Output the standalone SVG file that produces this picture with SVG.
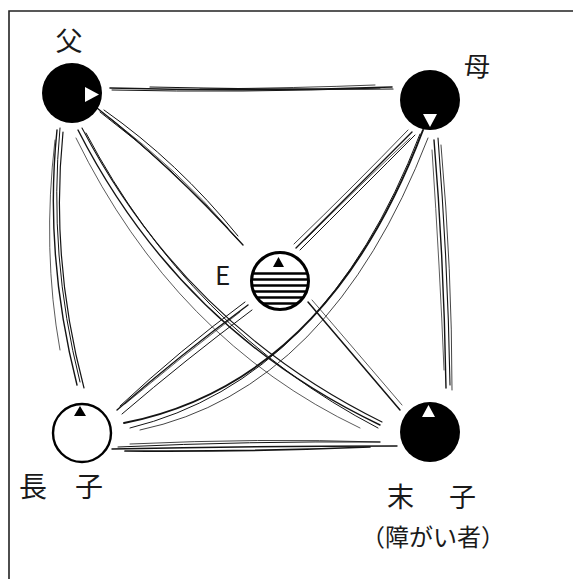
<svg xmlns="http://www.w3.org/2000/svg" width="573" height="579" viewBox="0 0 573 579">
<style>
.lbl{font-family:"Noto Sans CJK JP","Noto Sans",sans-serif;fill:#1a1a1a}
.s{fill:none;stroke:#141414;stroke-linecap:round}
.dark{fill:#000}
.tw{fill:#fff}
.tb{fill:#000}
</style>
<defs>
<clipPath id="eclip"><circle cx="280" cy="281" r="28"/></clipPath>
</defs>
<rect width="573" height="579" fill="#fff"/>
<path d="M9,579 V11 H573" fill="none" stroke="#222" stroke-width="1.6"/>

<g id="connectors">
<g id="fa-mo">
<path class="s" d="M110,88 Q250,92 392,87" stroke-width="1.6"/>
<path class="s" d="M112,90 Q240,93 380,88" stroke-width="1"/>
<path class="s" d="M150,87 Q280,90 393,89" stroke-width="1.2"/>
<path class="s" d="M200,89 Q300,88 375,85" stroke-width="0.8"/>
</g>
<g id="fa-el">
<path class="s" d="M57,130 Q44,255 77,385" stroke-width="1.4"/>
<path class="s" d="M60,128 Q48,255 80,382" stroke-width="1"/>
<path class="s" d="M63,132 Q50,260 84,388" stroke-width="1.2"/>
<path class="s" d="M55,140 Q42,250 60,350" stroke-width="0.7"/>
</g>
<g id="fa-e">
<path class="s" d="M97,108 Q170,165 243,245" stroke-width="1.4"/>
<path class="s" d="M100,112 Q175,168 240,242" stroke-width="1"/>
<path class="s" d="M104,110 Q178,162 238,236" stroke-width="1"/>
<path class="s" d="M110,118 Q180,172 228,228" stroke-width="0.7"/>
</g>
<g id="fa-yo">
<path class="s" d="M78,130 Q180,330 380,425" stroke-width="1.4"/>
<path class="s" d="M82,128 Q185,325 382,422" stroke-width="1.1"/>
<path class="s" d="M86,133 Q190,330 378,428" stroke-width="1"/>
<path class="s" d="M76,138 Q175,340 360,428" stroke-width="0.7"/>
</g>
<g id="mo-e">
<path class="s" d="M412,132 L296,248" stroke-width="1.4"/>
<path class="s" d="M415,135 Q360,190 300,250" stroke-width="1"/>
<path class="s" d="M408,130 Q355,185 294,244" stroke-width="0.8"/>
<path class="s" d="M410,138 Q360,185 305,240" stroke-width="0.7"/>
</g>
<g id="mo-el">
<path class="s" d="M423,130 Q327,383 124,423" stroke-width="1.9"/>
<path class="s" d="M420,134 Q325,380 130,428" stroke-width="1"/>
<path class="s" d="M428,138 Q330,390 140,430" stroke-width="0.8"/>
</g>
<g id="mo-yo">
<path class="s" d="M434,140 Q444,260 446,388" stroke-width="1.4"/>
<path class="s" d="M438,138 Q448,265 450,385" stroke-width="1.1"/>
<path class="s" d="M441,145 Q452,270 452,390" stroke-width="0.8"/>
<path class="s" d="M432,150 Q440,270 444,370" stroke-width="0.7"/>
</g>
<g id="e-el">
<path class="s" d="M248,305 Q180,355 117,410" stroke-width="1.4"/>
<path class="s" d="M245,302 Q180,350 120,406" stroke-width="1"/>
<path class="s" d="M252,310 Q185,360 122,414" stroke-width="1"/>
<path class="s" d="M240,312 Q180,358 125,404" stroke-width="0.7"/>
</g>
<g id="e-yo">
<path class="s" d="M308,302 L400,410" stroke-width="1.5"/>
<path class="s" d="M312,300 Q355,350 402,405" stroke-width="0.7"/>
</g>
<g id="el-yo">
<path class="s" d="M112,449 Q250,446 397,446" stroke-width="1.4"/>
<path class="s" d="M118,447 Q250,441 380,442" stroke-width="1"/>
<path class="s" d="M125,451 Q250,452 370,447" stroke-width="1.7"/>
<path class="s" d="M130,444 Q260,438 380,442" stroke-width="0.8"/>
</g>
</g>

<g id="father">
<circle class="dark" cx="72" cy="93" r="30"/>
<polygon class="tw" points="85,87 85,102 99,94.5"/>
<text class="lbl" x="69" y="51" font-size="27" text-anchor="middle">父</text>
</g>

<g id="mother">
<circle class="dark" cx="430" cy="100" r="30"/>
<polygon class="tw" points="423,114 437,114 430,127"/>
<text class="lbl" x="477" y="76" font-size="26" text-anchor="middle">母</text>
</g>

<g id="E">
<circle cx="280" cy="281" r="28.5" fill="#fff"/>
<g clip-path="url(#eclip)" stroke="#000" stroke-width="2.6">
<line x1="250" y1="273.5" x2="310" y2="273.5"/>
<line x1="250" y1="279.5" x2="310" y2="279.5"/>
<line x1="250" y1="285.5" x2="310" y2="285.5"/>
<line x1="250" y1="291.5" x2="310" y2="291.5"/>
<line x1="250" y1="297.5" x2="310" y2="297.5"/>
<line x1="250" y1="303.5" x2="310" y2="303.5"/>
</g>
<circle cx="280" cy="281" r="28.5" fill="none" stroke="#000" stroke-width="3"/>
<polygon class="tb" points="278.5,257 273,267 284,267"/>
<text class="lbl" x="215" y="285" font-size="26">E</text>
</g>

<g id="eldest">
<circle cx="82" cy="433" r="29" fill="#fff" stroke="#000" stroke-width="2.4"/>
<polygon class="tb" points="80,406 74,416 86,416"/>
<text class="lbl" x="19" y="497" font-size="28">長　子</text>
</g>

<g id="youngest">
<circle class="dark" cx="430" cy="432" r="30"/>
<polygon class="tw" points="428.5,405 422,417 435,417"/>
<text class="lbl" x="387" y="507" font-size="27" letter-spacing="4">末　子</text>
<text class="lbl" x="433" y="546" font-size="24" text-anchor="middle">（障がい者）</text>
</g>
</svg>
